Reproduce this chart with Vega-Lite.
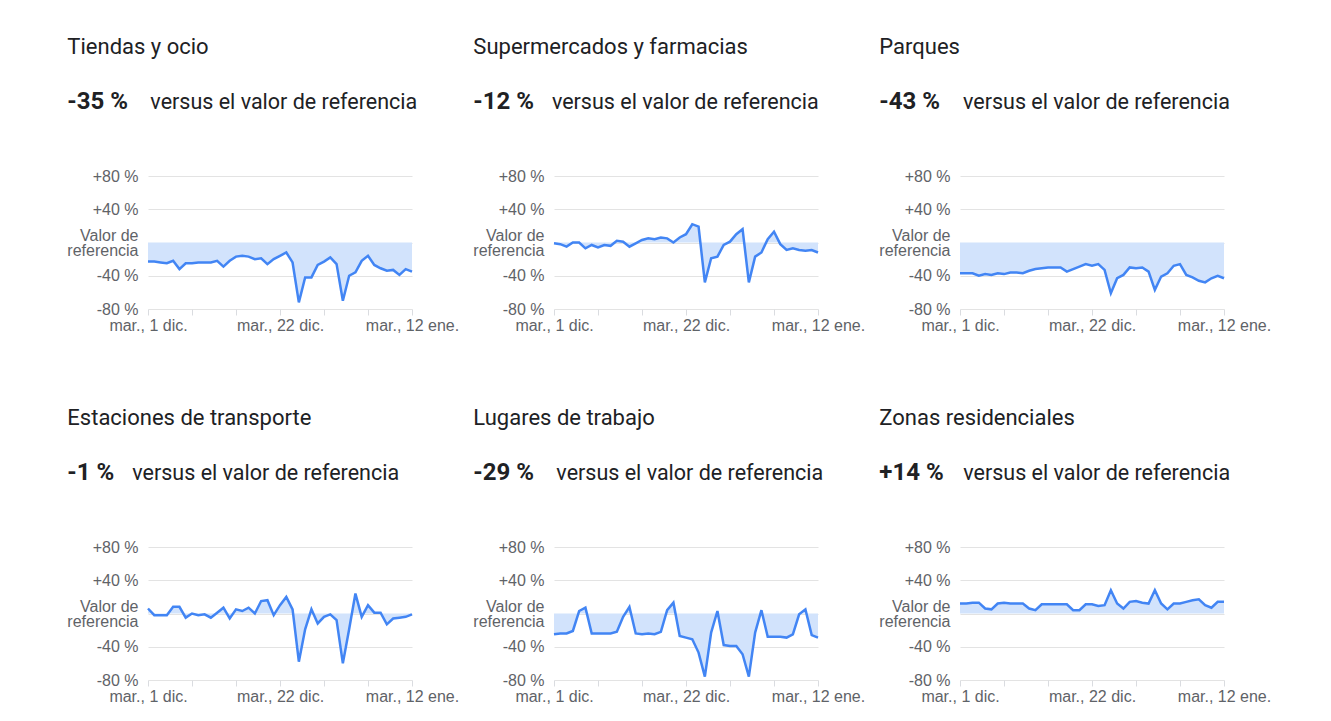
{
  "$schema": "https://vega.github.io/schema/vega-lite/v6.json",
  "background": "white",
  "padding": {"left": 66, "top": 35, "right": 5, "bottom": 5},
  "config": {"view": {"stroke": null}},
  "datasets": {
    "tiendas": [
      {"fecha":"2020-12-01","valor":-23},{"fecha":"2020-12-02","valor":-23},{"fecha":"2020-12-03","valor":-24},{"fecha":"2020-12-04","valor":-25},{"fecha":"2020-12-05","valor":-22},{"fecha":"2020-12-06","valor":-32},{"fecha":"2020-12-07","valor":-25},{"fecha":"2020-12-08","valor":-25},{"fecha":"2020-12-09","valor":-24},{"fecha":"2020-12-10","valor":-24},{"fecha":"2020-12-11","valor":-24},{"fecha":"2020-12-12","valor":-22},{"fecha":"2020-12-13","valor":-29},{"fecha":"2020-12-14","valor":-22},{"fecha":"2020-12-15","valor":-17},{"fecha":"2020-12-16","valor":-16},{"fecha":"2020-12-17","valor":-17},{"fecha":"2020-12-18","valor":-20},{"fecha":"2020-12-19","valor":-19},{"fecha":"2020-12-20","valor":-26},{"fecha":"2020-12-21","valor":-20},{"fecha":"2020-12-22","valor":-16},{"fecha":"2020-12-23","valor":-12},{"fecha":"2020-12-24","valor":-24},{"fecha":"2020-12-25","valor":-72},{"fecha":"2020-12-26","valor":-42},{"fecha":"2020-12-27","valor":-42},{"fecha":"2020-12-28","valor":-27},{"fecha":"2020-12-29","valor":-23},{"fecha":"2020-12-30","valor":-18},{"fecha":"2020-12-31","valor":-26},{"fecha":"2021-01-01","valor":-70},{"fecha":"2021-01-02","valor":-40},{"fecha":"2021-01-03","valor":-36},{"fecha":"2021-01-04","valor":-22},{"fecha":"2021-01-05","valor":-16},{"fecha":"2021-01-06","valor":-27},{"fecha":"2021-01-07","valor":-31},{"fecha":"2021-01-08","valor":-34},{"fecha":"2021-01-09","valor":-33},{"fecha":"2021-01-10","valor":-39},{"fecha":"2021-01-11","valor":-32},{"fecha":"2021-01-12","valor":-35}
    ],
    "supermercados": [
      {"fecha":"2020-12-01","valor":-1},{"fecha":"2020-12-02","valor":-2},{"fecha":"2020-12-03","valor":-5},{"fecha":"2020-12-04","valor":0},{"fecha":"2020-12-05","valor":0},{"fecha":"2020-12-06","valor":-7},{"fecha":"2020-12-07","valor":-3},{"fecha":"2020-12-08","valor":-6},{"fecha":"2020-12-09","valor":-3},{"fecha":"2020-12-10","valor":-4},{"fecha":"2020-12-11","valor":2},{"fecha":"2020-12-12","valor":1},{"fecha":"2020-12-13","valor":-5},{"fecha":"2020-12-14","valor":-1},{"fecha":"2020-12-15","valor":3},{"fecha":"2020-12-16","valor":5},{"fecha":"2020-12-17","valor":4},{"fecha":"2020-12-18","valor":6},{"fecha":"2020-12-19","valor":5},{"fecha":"2020-12-20","valor":0},{"fecha":"2020-12-21","valor":6},{"fecha":"2020-12-22","valor":10},{"fecha":"2020-12-23","valor":22},{"fecha":"2020-12-24","valor":19},{"fecha":"2020-12-25","valor":-48},{"fecha":"2020-12-26","valor":-19},{"fecha":"2020-12-27","valor":-17},{"fecha":"2020-12-28","valor":-3},{"fecha":"2020-12-29","valor":1},{"fecha":"2020-12-30","valor":10},{"fecha":"2020-12-31","valor":16},{"fecha":"2021-01-01","valor":-48},{"fecha":"2021-01-02","valor":-17},{"fecha":"2021-01-03","valor":-12},{"fecha":"2021-01-04","valor":4},{"fecha":"2021-01-05","valor":13},{"fecha":"2021-01-06","valor":-2},{"fecha":"2021-01-07","valor":-9},{"fecha":"2021-01-08","valor":-7},{"fecha":"2021-01-09","valor":-9},{"fecha":"2021-01-10","valor":-10},{"fecha":"2021-01-11","valor":-9},{"fecha":"2021-01-12","valor":-12}
    ],
    "parques": [
      {"fecha":"2020-12-01","valor":-37},{"fecha":"2020-12-02","valor":-37},{"fecha":"2020-12-03","valor":-37},{"fecha":"2020-12-04","valor":-40},{"fecha":"2020-12-05","valor":-38},{"fecha":"2020-12-06","valor":-39},{"fecha":"2020-12-07","valor":-37},{"fecha":"2020-12-08","valor":-38},{"fecha":"2020-12-09","valor":-36},{"fecha":"2020-12-10","valor":-36},{"fecha":"2020-12-11","valor":-37},{"fecha":"2020-12-12","valor":-34},{"fecha":"2020-12-13","valor":-32},{"fecha":"2020-12-14","valor":-31},{"fecha":"2020-12-15","valor":-30},{"fecha":"2020-12-16","valor":-30},{"fecha":"2020-12-17","valor":-30},{"fecha":"2020-12-18","valor":-35},{"fecha":"2020-12-19","valor":-32},{"fecha":"2020-12-20","valor":-29},{"fecha":"2020-12-21","valor":-26},{"fecha":"2020-12-22","valor":-28},{"fecha":"2020-12-23","valor":-26},{"fecha":"2020-12-24","valor":-33},{"fecha":"2020-12-25","valor":-61},{"fecha":"2020-12-26","valor":-43},{"fecha":"2020-12-27","valor":-39},{"fecha":"2020-12-28","valor":-30},{"fecha":"2020-12-29","valor":-31},{"fecha":"2020-12-30","valor":-30},{"fecha":"2020-12-31","valor":-35},{"fecha":"2021-01-01","valor":-57},{"fecha":"2021-01-02","valor":-41},{"fecha":"2021-01-03","valor":-37},{"fecha":"2021-01-04","valor":-28},{"fecha":"2021-01-05","valor":-26},{"fecha":"2021-01-06","valor":-39},{"fecha":"2021-01-07","valor":-42},{"fecha":"2021-01-08","valor":-46},{"fecha":"2021-01-09","valor":-48},{"fecha":"2021-01-10","valor":-43},{"fecha":"2021-01-11","valor":-40},{"fecha":"2021-01-12","valor":-43}
    ],
    "transporte": [
      {"fecha":"2020-12-01","valor":6},{"fecha":"2020-12-02","valor":-2},{"fecha":"2020-12-03","valor":-2},{"fecha":"2020-12-04","valor":-2},{"fecha":"2020-12-05","valor":8},{"fecha":"2020-12-06","valor":8},{"fecha":"2020-12-07","valor":-5},{"fecha":"2020-12-08","valor":0},{"fecha":"2020-12-09","valor":-2},{"fecha":"2020-12-10","valor":-1},{"fecha":"2020-12-11","valor":-5},{"fecha":"2020-12-12","valor":1},{"fecha":"2020-12-13","valor":7},{"fecha":"2020-12-14","valor":-6},{"fecha":"2020-12-15","valor":5},{"fecha":"2020-12-16","valor":3},{"fecha":"2020-12-17","valor":7},{"fecha":"2020-12-18","valor":0},{"fecha":"2020-12-19","valor":15},{"fecha":"2020-12-20","valor":16},{"fecha":"2020-12-21","valor":-2},{"fecha":"2020-12-22","valor":10},{"fecha":"2020-12-23","valor":20},{"fecha":"2020-12-24","valor":5},{"fecha":"2020-12-25","valor":-58},{"fecha":"2020-12-26","valor":-19},{"fecha":"2020-12-27","valor":5},{"fecha":"2020-12-28","valor":-12},{"fecha":"2020-12-29","valor":-4},{"fecha":"2020-12-30","valor":-1},{"fecha":"2020-12-31","valor":-8},{"fecha":"2021-01-01","valor":-60},{"fecha":"2021-01-02","valor":-19},{"fecha":"2021-01-03","valor":24},{"fecha":"2021-01-04","valor":-4},{"fecha":"2021-01-05","valor":10},{"fecha":"2021-01-06","valor":1},{"fecha":"2021-01-07","valor":1},{"fecha":"2021-01-08","valor":-13},{"fecha":"2021-01-09","valor":-6},{"fecha":"2021-01-10","valor":-5},{"fecha":"2021-01-11","valor":-4},{"fecha":"2021-01-12","valor":-1}
    ],
    "trabajo": [
      {"fecha":"2020-12-01","valor":-25},{"fecha":"2020-12-02","valor":-24},{"fecha":"2020-12-03","valor":-24},{"fecha":"2020-12-04","valor":-21},{"fecha":"2020-12-05","valor":3},{"fecha":"2020-12-06","valor":7},{"fecha":"2020-12-07","valor":-24},{"fecha":"2020-12-08","valor":-24},{"fecha":"2020-12-09","valor":-24},{"fecha":"2020-12-10","valor":-24},{"fecha":"2020-12-11","valor":-22},{"fecha":"2020-12-12","valor":-4},{"fecha":"2020-12-13","valor":8},{"fecha":"2020-12-14","valor":-24},{"fecha":"2020-12-15","valor":-25},{"fecha":"2020-12-16","valor":-24},{"fecha":"2020-12-17","valor":-25},{"fecha":"2020-12-18","valor":-22},{"fecha":"2020-12-19","valor":4},{"fecha":"2020-12-20","valor":13},{"fecha":"2020-12-21","valor":-27},{"fecha":"2020-12-22","valor":-29},{"fecha":"2020-12-23","valor":-31},{"fecha":"2020-12-24","valor":-47},{"fecha":"2020-12-25","valor":-76},{"fecha":"2020-12-26","valor":-23},{"fecha":"2020-12-27","valor":3},{"fecha":"2020-12-28","valor":-38},{"fecha":"2020-12-29","valor":-39},{"fecha":"2020-12-30","valor":-39},{"fecha":"2020-12-31","valor":-49},{"fecha":"2021-01-01","valor":-76},{"fecha":"2021-01-02","valor":-23},{"fecha":"2021-01-03","valor":4},{"fecha":"2021-01-04","valor":-28},{"fecha":"2021-01-05","valor":-28},{"fecha":"2021-01-06","valor":-28},{"fecha":"2021-01-07","valor":-29},{"fecha":"2021-01-08","valor":-25},{"fecha":"2021-01-09","valor":-1},{"fecha":"2021-01-10","valor":5},{"fecha":"2021-01-11","valor":-26},{"fecha":"2021-01-12","valor":-29}
    ],
    "residencial": [
      {"fecha":"2020-12-01","valor":12},{"fecha":"2020-12-02","valor":12},{"fecha":"2020-12-03","valor":13},{"fecha":"2020-12-04","valor":13},{"fecha":"2020-12-05","valor":6},{"fecha":"2020-12-06","valor":5},{"fecha":"2020-12-07","valor":12},{"fecha":"2020-12-08","valor":13},{"fecha":"2020-12-09","valor":12},{"fecha":"2020-12-10","valor":12},{"fecha":"2020-12-11","valor":12},{"fecha":"2020-12-12","valor":6},{"fecha":"2020-12-13","valor":4},{"fecha":"2020-12-14","valor":11},{"fecha":"2020-12-15","valor":11},{"fecha":"2020-12-16","valor":11},{"fecha":"2020-12-17","valor":11},{"fecha":"2020-12-18","valor":11},{"fecha":"2020-12-19","valor":4},{"fecha":"2020-12-20","valor":4},{"fecha":"2020-12-21","valor":11},{"fecha":"2020-12-22","valor":11},{"fecha":"2020-12-23","valor":9},{"fecha":"2020-12-24","valor":10},{"fecha":"2020-12-25","valor":28},{"fecha":"2020-12-26","valor":12},{"fecha":"2020-12-27","valor":6},{"fecha":"2020-12-28","valor":14},{"fecha":"2020-12-29","valor":15},{"fecha":"2020-12-30","valor":13},{"fecha":"2020-12-31","valor":12},{"fecha":"2021-01-01","valor":28},{"fecha":"2021-01-02","valor":12},{"fecha":"2021-01-03","valor":5},{"fecha":"2021-01-04","valor":12},{"fecha":"2021-01-05","valor":12},{"fecha":"2021-01-06","valor":14},{"fecha":"2021-01-07","valor":16},{"fecha":"2021-01-08","valor":17},{"fecha":"2021-01-09","valor":10},{"fecha":"2021-01-10","valor":7},{"fecha":"2021-01-11","valor":14},{"fecha":"2021-01-12","valor":14}
    ]
  },
  "columns": 3,
  "spacing": {"row": 238, "column": 142},
  "bounds": "flush",
  "concat": [
    {
      "width": 264, "height": 133,
      "data": {"values": [{"titulo": "Tiendas y ocio", "cifra": "-35 %", "texto": "versus el valor de referencia"}]},
      "layer": [
        {"data": {"name": "tiendas"}, "mark": {"type": "area", "color": "#d2e3fc", "opacity": 1},
         "encoding": {
           "x": {"field": "fecha", "type": "temporal", "scale": {"type": "utc", "domain": [{"year":2020,"month":12,"date":1,"utc":true},{"year":2021,"month":1,"date":12,"utc":true}]},
                 "axis": {"values": [{"year":2020,"month":12,"date":1,"utc":true},{"year":2020,"month":12,"date":8,"utc":true},{"year":2020,"month":12,"date":15,"utc":true},{"year":2020,"month":12,"date":22,"utc":true},{"year":2020,"month":12,"date":29,"utc":true},{"year":2021,"month":1,"date":5,"utc":true},{"year":2021,"month":1,"date":12,"utc":true}], "tickCount": 10,
                          "labelExpr": "utcdate(datum.value) == 1 ? 'mar., 1 dic.' : utcdate(datum.value) == 22 ? 'mar., 22 dic.' : utcdate(datum.value) == 12 ? 'mar., 12 ene.' : ''",
                          "title": null, "grid": false, "domain": false, "ticks": true, "tickSize": 6, "tickColor": "#dadce0", "labelFont": "Liberation Sans", "labelFontSize": 16, "labelColor": "#5f6368", "labelPadding": 2, "labelOverlap": false, "labelFlush": false}},
           "y": {"field": "valor", "type": "quantitative", "scale": {"domain": [-80, 80], "nice": false},
                 "axis": {"values": [-80, -40, 0, 40, 80], "tickCount": 5, "labelExpr": "datum.value == 0 ? ['Valor de', 'referencia'] : (datum.value > 0 ? '+' : '') + datum.value + ' %'",
                          "title": null, "domain": false, "ticks": false, "grid": true, "gridColor": "#e3e3e3", "labelFont": "Liberation Sans", "labelFontSize": 16, "labelColor": "#5f6368", "labelPadding": 10, "labelLineHeight": 15, "labelOverlap": false,
                          "labelOffset": {"condition": {"test": "datum.value == 0", "value": -7}, "value": 0}}},
           "y2": {"datum": 0}}},
        {"data": {"name": "tiendas"}, "mark": {"type": "line", "color": "#4285f4", "strokeWidth": 2.5},
         "encoding": {
           "x": {"field": "fecha", "type": "temporal", "scale": {"type": "utc", "domain": [{"year":2020,"month":12,"date":1,"utc":true},{"year":2021,"month":1,"date":12,"utc":true}]}},
           "y": {"field": "valor", "type": "quantitative", "scale": {"domain": [-80, 80], "nice": false}}}},
        {"mark": {"type": "text", "align": "left", "baseline": "alphabetic", "font": "Roboto", "fontSize": 22, "color": "#202124"},
         "encoding": {
           "x": {"datum": {"year":2020,"month":11,"date":18,"hours":4,"utc":true}, "type": "temporal", "scale": {"type": "utc", "domain": [{"year":2020,"month":12,"date":1,"utc":true},{"year":2021,"month":1,"date":12,"utc":true}]}},
           "y": {"datum": 226.8, "type": "quantitative", "scale": {"domain": [-80, 80], "nice": false}},
           "text": {"field": "titulo"}}},
        {"mark": {"type": "text", "align": "left", "baseline": "alphabetic", "font": "Roboto", "fontSize": 24, "fontWeight": "bold", "color": "#202124"},
         "encoding": {
           "x": {"datum": {"year":2020,"month":11,"date":18,"hours":4,"utc":true}, "type": "temporal", "scale": {"type": "utc", "domain": [{"year":2020,"month":12,"date":1,"utc":true},{"year":2021,"month":1,"date":12,"utc":true}]}},
           "y": {"datum": 160.6, "type": "quantitative", "scale": {"domain": [-80, 80], "nice": false}},
           "text": {"field": "cifra"}}},
        {"mark": {"type": "text", "align": "left", "baseline": "alphabetic", "font": "Roboto", "fontSize": 21.5, "color": "#202124"},
         "encoding": {
           "x": {"datum": {"year":2020,"month":12,"date":1,"hours":9,"utc":true}, "type": "temporal", "scale": {"type": "utc", "domain": [{"year":2020,"month":12,"date":1,"utc":true},{"year":2021,"month":1,"date":12,"utc":true}]}},
           "y": {"datum": 160.6, "type": "quantitative", "scale": {"domain": [-80, 80], "nice": false}},
           "text": {"field": "texto"}}}
      ]
    },
    {
      "width": 264, "height": 133,
      "data": {"values": [{"titulo": "Supermercados y farmacias", "cifra": "-12 %", "texto": "versus el valor de referencia"}]},
      "layer": [
        {"data": {"name": "supermercados"}, "mark": {"type": "area", "color": "#d2e3fc", "opacity": 1},
         "encoding": {
           "x": {"field": "fecha", "type": "temporal", "scale": {"type": "utc", "domain": [{"year":2020,"month":12,"date":1,"utc":true},{"year":2021,"month":1,"date":12,"utc":true}]},
                 "axis": {"values": [{"year":2020,"month":12,"date":1,"utc":true},{"year":2020,"month":12,"date":8,"utc":true},{"year":2020,"month":12,"date":15,"utc":true},{"year":2020,"month":12,"date":22,"utc":true},{"year":2020,"month":12,"date":29,"utc":true},{"year":2021,"month":1,"date":5,"utc":true},{"year":2021,"month":1,"date":12,"utc":true}], "tickCount": 10,
                          "labelExpr": "utcdate(datum.value) == 1 ? 'mar., 1 dic.' : utcdate(datum.value) == 22 ? 'mar., 22 dic.' : utcdate(datum.value) == 12 ? 'mar., 12 ene.' : ''",
                          "title": null, "grid": false, "domain": false, "ticks": true, "tickSize": 6, "tickColor": "#dadce0", "labelFont": "Liberation Sans", "labelFontSize": 16, "labelColor": "#5f6368", "labelPadding": 2, "labelOverlap": false, "labelFlush": false}},
           "y": {"field": "valor", "type": "quantitative", "scale": {"domain": [-80, 80], "nice": false},
                 "axis": {"values": [-80, -40, 0, 40, 80], "tickCount": 5, "labelExpr": "datum.value == 0 ? ['Valor de', 'referencia'] : (datum.value > 0 ? '+' : '') + datum.value + ' %'",
                          "title": null, "domain": false, "ticks": false, "grid": true, "gridColor": "#e3e3e3", "labelFont": "Liberation Sans", "labelFontSize": 16, "labelColor": "#5f6368", "labelPadding": 10, "labelLineHeight": 15, "labelOverlap": false,
                          "labelOffset": {"condition": {"test": "datum.value == 0", "value": -7}, "value": 0}}},
           "y2": {"datum": 0}}},
        {"data": {"name": "supermercados"}, "mark": {"type": "line", "color": "#4285f4", "strokeWidth": 2.5},
         "encoding": {
           "x": {"field": "fecha", "type": "temporal", "scale": {"type": "utc", "domain": [{"year":2020,"month":12,"date":1,"utc":true},{"year":2021,"month":1,"date":12,"utc":true}]}},
           "y": {"field": "valor", "type": "quantitative", "scale": {"domain": [-80, 80], "nice": false}}}},
        {"mark": {"type": "text", "align": "left", "baseline": "alphabetic", "font": "Roboto", "fontSize": 22, "color": "#202124"},
         "encoding": {
           "x": {"datum": {"year":2020,"month":11,"date":18,"hours":4,"utc":true}, "type": "temporal", "scale": {"type": "utc", "domain": [{"year":2020,"month":12,"date":1,"utc":true},{"year":2021,"month":1,"date":12,"utc":true}]}},
           "y": {"datum": 226.8, "type": "quantitative", "scale": {"domain": [-80, 80], "nice": false}},
           "text": {"field": "titulo"}}},
        {"mark": {"type": "text", "align": "left", "baseline": "alphabetic", "font": "Roboto", "fontSize": 24, "fontWeight": "bold", "color": "#202124"},
         "encoding": {
           "x": {"datum": {"year":2020,"month":11,"date":18,"hours":4,"utc":true}, "type": "temporal", "scale": {"type": "utc", "domain": [{"year":2020,"month":12,"date":1,"utc":true},{"year":2021,"month":1,"date":12,"utc":true}]}},
           "y": {"datum": 160.6, "type": "quantitative", "scale": {"domain": [-80, 80], "nice": false}},
           "text": {"field": "cifra"}}},
        {"mark": {"type": "text", "align": "left", "baseline": "alphabetic", "font": "Roboto", "fontSize": 21.5, "color": "#202124"},
         "encoding": {
           "x": {"datum": {"year":2020,"month":11,"date":30,"hours":16,"utc":true}, "type": "temporal", "scale": {"type": "utc", "domain": [{"year":2020,"month":12,"date":1,"utc":true},{"year":2021,"month":1,"date":12,"utc":true}]}},
           "y": {"datum": 160.6, "type": "quantitative", "scale": {"domain": [-80, 80], "nice": false}},
           "text": {"field": "texto"}}}
      ]
    },
    {
      "width": 264, "height": 133,
      "data": {"values": [{"titulo": "Parques", "cifra": "-43 %", "texto": "versus el valor de referencia"}]},
      "layer": [
        {"data": {"name": "parques"}, "mark": {"type": "area", "color": "#d2e3fc", "opacity": 1},
         "encoding": {
           "x": {"field": "fecha", "type": "temporal", "scale": {"type": "utc", "domain": [{"year":2020,"month":12,"date":1,"utc":true},{"year":2021,"month":1,"date":12,"utc":true}]},
                 "axis": {"values": [{"year":2020,"month":12,"date":1,"utc":true},{"year":2020,"month":12,"date":8,"utc":true},{"year":2020,"month":12,"date":15,"utc":true},{"year":2020,"month":12,"date":22,"utc":true},{"year":2020,"month":12,"date":29,"utc":true},{"year":2021,"month":1,"date":5,"utc":true},{"year":2021,"month":1,"date":12,"utc":true}], "tickCount": 10,
                          "labelExpr": "utcdate(datum.value) == 1 ? 'mar., 1 dic.' : utcdate(datum.value) == 22 ? 'mar., 22 dic.' : utcdate(datum.value) == 12 ? 'mar., 12 ene.' : ''",
                          "title": null, "grid": false, "domain": false, "ticks": true, "tickSize": 6, "tickColor": "#dadce0", "labelFont": "Liberation Sans", "labelFontSize": 16, "labelColor": "#5f6368", "labelPadding": 2, "labelOverlap": false, "labelFlush": false}},
           "y": {"field": "valor", "type": "quantitative", "scale": {"domain": [-80, 80], "nice": false},
                 "axis": {"values": [-80, -40, 0, 40, 80], "tickCount": 5, "labelExpr": "datum.value == 0 ? ['Valor de', 'referencia'] : (datum.value > 0 ? '+' : '') + datum.value + ' %'",
                          "title": null, "domain": false, "ticks": false, "grid": true, "gridColor": "#e3e3e3", "labelFont": "Liberation Sans", "labelFontSize": 16, "labelColor": "#5f6368", "labelPadding": 10, "labelLineHeight": 15, "labelOverlap": false,
                          "labelOffset": {"condition": {"test": "datum.value == 0", "value": -7}, "value": 0}}},
           "y2": {"datum": 0}}},
        {"data": {"name": "parques"}, "mark": {"type": "line", "color": "#4285f4", "strokeWidth": 2.5},
         "encoding": {
           "x": {"field": "fecha", "type": "temporal", "scale": {"type": "utc", "domain": [{"year":2020,"month":12,"date":1,"utc":true},{"year":2021,"month":1,"date":12,"utc":true}]}},
           "y": {"field": "valor", "type": "quantitative", "scale": {"domain": [-80, 80], "nice": false}}}},
        {"mark": {"type": "text", "align": "left", "baseline": "alphabetic", "font": "Roboto", "fontSize": 22, "color": "#202124"},
         "encoding": {
           "x": {"datum": {"year":2020,"month":11,"date":18,"hours":4,"utc":true}, "type": "temporal", "scale": {"type": "utc", "domain": [{"year":2020,"month":12,"date":1,"utc":true},{"year":2021,"month":1,"date":12,"utc":true}]}},
           "y": {"datum": 226.8, "type": "quantitative", "scale": {"domain": [-80, 80], "nice": false}},
           "text": {"field": "titulo"}}},
        {"mark": {"type": "text", "align": "left", "baseline": "alphabetic", "font": "Roboto", "fontSize": 24, "fontWeight": "bold", "color": "#202124"},
         "encoding": {
           "x": {"datum": {"year":2020,"month":11,"date":18,"hours":4,"utc":true}, "type": "temporal", "scale": {"type": "utc", "domain": [{"year":2020,"month":12,"date":1,"utc":true},{"year":2021,"month":1,"date":12,"utc":true}]}},
           "y": {"datum": 160.6, "type": "quantitative", "scale": {"domain": [-80, 80], "nice": false}},
           "text": {"field": "cifra"}}},
        {"mark": {"type": "text", "align": "left", "baseline": "alphabetic", "font": "Roboto", "fontSize": 21.5, "color": "#202124"},
         "encoding": {
           "x": {"datum": {"year":2020,"month":12,"date":1,"hours":11,"minutes":30,"utc":true}, "type": "temporal", "scale": {"type": "utc", "domain": [{"year":2020,"month":12,"date":1,"utc":true},{"year":2021,"month":1,"date":12,"utc":true}]}},
           "y": {"datum": 160.6, "type": "quantitative", "scale": {"domain": [-80, 80], "nice": false}},
           "text": {"field": "texto"}}}
      ]
    },
    {
      "width": 264, "height": 133,
      "data": {"values": [{"titulo": "Estaciones de transporte", "cifra": "-1 %", "texto": "versus el valor de referencia"}]},
      "layer": [
        {"data": {"name": "transporte"}, "mark": {"type": "area", "color": "#d2e3fc", "opacity": 1},
         "encoding": {
           "x": {"field": "fecha", "type": "temporal", "scale": {"type": "utc", "domain": [{"year":2020,"month":12,"date":1,"utc":true},{"year":2021,"month":1,"date":12,"utc":true}]},
                 "axis": {"values": [{"year":2020,"month":12,"date":1,"utc":true},{"year":2020,"month":12,"date":8,"utc":true},{"year":2020,"month":12,"date":15,"utc":true},{"year":2020,"month":12,"date":22,"utc":true},{"year":2020,"month":12,"date":29,"utc":true},{"year":2021,"month":1,"date":5,"utc":true},{"year":2021,"month":1,"date":12,"utc":true}], "tickCount": 10,
                          "labelExpr": "utcdate(datum.value) == 1 ? 'mar., 1 dic.' : utcdate(datum.value) == 22 ? 'mar., 22 dic.' : utcdate(datum.value) == 12 ? 'mar., 12 ene.' : ''",
                          "title": null, "grid": false, "domain": false, "ticks": true, "tickSize": 6, "tickColor": "#dadce0", "labelFont": "Liberation Sans", "labelFontSize": 16, "labelColor": "#5f6368", "labelPadding": 2, "labelOverlap": false, "labelFlush": false}},
           "y": {"field": "valor", "type": "quantitative", "scale": {"domain": [-80, 80], "nice": false},
                 "axis": {"values": [-80, -40, 0, 40, 80], "tickCount": 5, "labelExpr": "datum.value == 0 ? ['Valor de', 'referencia'] : (datum.value > 0 ? '+' : '') + datum.value + ' %'",
                          "title": null, "domain": false, "ticks": false, "grid": true, "gridColor": "#e3e3e3", "labelFont": "Liberation Sans", "labelFontSize": 16, "labelColor": "#5f6368", "labelPadding": 10, "labelLineHeight": 15, "labelOverlap": false,
                          "labelOffset": {"condition": {"test": "datum.value == 0", "value": -7}, "value": 0}}},
           "y2": {"datum": 0}}},
        {"data": {"name": "transporte"}, "mark": {"type": "line", "color": "#4285f4", "strokeWidth": 2.5},
         "encoding": {
           "x": {"field": "fecha", "type": "temporal", "scale": {"type": "utc", "domain": [{"year":2020,"month":12,"date":1,"utc":true},{"year":2021,"month":1,"date":12,"utc":true}]}},
           "y": {"field": "valor", "type": "quantitative", "scale": {"domain": [-80, 80], "nice": false}}}},
        {"mark": {"type": "text", "align": "left", "baseline": "alphabetic", "font": "Roboto", "fontSize": 22, "color": "#202124"},
         "encoding": {
           "x": {"datum": {"year":2020,"month":11,"date":18,"hours":4,"utc":true}, "type": "temporal", "scale": {"type": "utc", "domain": [{"year":2020,"month":12,"date":1,"utc":true},{"year":2021,"month":1,"date":12,"utc":true}]}},
           "y": {"datum": 226.8, "type": "quantitative", "scale": {"domain": [-80, 80], "nice": false}},
           "text": {"field": "titulo"}}},
        {"mark": {"type": "text", "align": "left", "baseline": "alphabetic", "font": "Roboto", "fontSize": 24, "fontWeight": "bold", "color": "#202124"},
         "encoding": {
           "x": {"datum": {"year":2020,"month":11,"date":18,"hours":4,"utc":true}, "type": "temporal", "scale": {"type": "utc", "domain": [{"year":2020,"month":12,"date":1,"utc":true},{"year":2021,"month":1,"date":12,"utc":true}]}},
           "y": {"datum": 160.6, "type": "quantitative", "scale": {"domain": [-80, 80], "nice": false}},
           "text": {"field": "cifra"}}},
        {"mark": {"type": "text", "align": "left", "baseline": "alphabetic", "font": "Roboto", "fontSize": 21.5, "color": "#202124"},
         "encoding": {
           "x": {"datum": {"year":2020,"month":11,"date":28,"hours":12,"utc":true}, "type": "temporal", "scale": {"type": "utc", "domain": [{"year":2020,"month":12,"date":1,"utc":true},{"year":2021,"month":1,"date":12,"utc":true}]}},
           "y": {"datum": 160.6, "type": "quantitative", "scale": {"domain": [-80, 80], "nice": false}},
           "text": {"field": "texto"}}}
      ]
    },
    {
      "width": 264, "height": 133,
      "data": {"values": [{"titulo": "Lugares de trabajo", "cifra": "-29 %", "texto": "versus el valor de referencia"}]},
      "layer": [
        {"data": {"name": "trabajo"}, "mark": {"type": "area", "color": "#d2e3fc", "opacity": 1},
         "encoding": {
           "x": {"field": "fecha", "type": "temporal", "scale": {"type": "utc", "domain": [{"year":2020,"month":12,"date":1,"utc":true},{"year":2021,"month":1,"date":12,"utc":true}]},
                 "axis": {"values": [{"year":2020,"month":12,"date":1,"utc":true},{"year":2020,"month":12,"date":8,"utc":true},{"year":2020,"month":12,"date":15,"utc":true},{"year":2020,"month":12,"date":22,"utc":true},{"year":2020,"month":12,"date":29,"utc":true},{"year":2021,"month":1,"date":5,"utc":true},{"year":2021,"month":1,"date":12,"utc":true}], "tickCount": 10,
                          "labelExpr": "utcdate(datum.value) == 1 ? 'mar., 1 dic.' : utcdate(datum.value) == 22 ? 'mar., 22 dic.' : utcdate(datum.value) == 12 ? 'mar., 12 ene.' : ''",
                          "title": null, "grid": false, "domain": false, "ticks": true, "tickSize": 6, "tickColor": "#dadce0", "labelFont": "Liberation Sans", "labelFontSize": 16, "labelColor": "#5f6368", "labelPadding": 2, "labelOverlap": false, "labelFlush": false}},
           "y": {"field": "valor", "type": "quantitative", "scale": {"domain": [-80, 80], "nice": false},
                 "axis": {"values": [-80, -40, 0, 40, 80], "tickCount": 5, "labelExpr": "datum.value == 0 ? ['Valor de', 'referencia'] : (datum.value > 0 ? '+' : '') + datum.value + ' %'",
                          "title": null, "domain": false, "ticks": false, "grid": true, "gridColor": "#e3e3e3", "labelFont": "Liberation Sans", "labelFontSize": 16, "labelColor": "#5f6368", "labelPadding": 10, "labelLineHeight": 15, "labelOverlap": false,
                          "labelOffset": {"condition": {"test": "datum.value == 0", "value": -7}, "value": 0}}},
           "y2": {"datum": 0}}},
        {"data": {"name": "trabajo"}, "mark": {"type": "line", "color": "#4285f4", "strokeWidth": 2.5},
         "encoding": {
           "x": {"field": "fecha", "type": "temporal", "scale": {"type": "utc", "domain": [{"year":2020,"month":12,"date":1,"utc":true},{"year":2021,"month":1,"date":12,"utc":true}]}},
           "y": {"field": "valor", "type": "quantitative", "scale": {"domain": [-80, 80], "nice": false}}}},
        {"mark": {"type": "text", "align": "left", "baseline": "alphabetic", "font": "Roboto", "fontSize": 22, "color": "#202124"},
         "encoding": {
           "x": {"datum": {"year":2020,"month":11,"date":18,"hours":4,"utc":true}, "type": "temporal", "scale": {"type": "utc", "domain": [{"year":2020,"month":12,"date":1,"utc":true},{"year":2021,"month":1,"date":12,"utc":true}]}},
           "y": {"datum": 226.8, "type": "quantitative", "scale": {"domain": [-80, 80], "nice": false}},
           "text": {"field": "titulo"}}},
        {"mark": {"type": "text", "align": "left", "baseline": "alphabetic", "font": "Roboto", "fontSize": 24, "fontWeight": "bold", "color": "#202124"},
         "encoding": {
           "x": {"datum": {"year":2020,"month":11,"date":18,"hours":4,"utc":true}, "type": "temporal", "scale": {"type": "utc", "domain": [{"year":2020,"month":12,"date":1,"utc":true},{"year":2021,"month":1,"date":12,"utc":true}]}},
           "y": {"datum": 160.6, "type": "quantitative", "scale": {"domain": [-80, 80], "nice": false}},
           "text": {"field": "cifra"}}},
        {"mark": {"type": "text", "align": "left", "baseline": "alphabetic", "font": "Roboto", "fontSize": 21.5, "color": "#202124"},
         "encoding": {
           "x": {"datum": {"year":2020,"month":12,"date":1,"hours":9,"utc":true}, "type": "temporal", "scale": {"type": "utc", "domain": [{"year":2020,"month":12,"date":1,"utc":true},{"year":2021,"month":1,"date":12,"utc":true}]}},
           "y": {"datum": 160.6, "type": "quantitative", "scale": {"domain": [-80, 80], "nice": false}},
           "text": {"field": "texto"}}}
      ]
    },
    {
      "width": 264, "height": 133,
      "data": {"values": [{"titulo": "Zonas residenciales", "cifra": "+14 %", "texto": "versus el valor de referencia"}]},
      "layer": [
        {"data": {"name": "residencial"}, "mark": {"type": "area", "color": "#d2e3fc", "opacity": 1},
         "encoding": {
           "x": {"field": "fecha", "type": "temporal", "scale": {"type": "utc", "domain": [{"year":2020,"month":12,"date":1,"utc":true},{"year":2021,"month":1,"date":12,"utc":true}]},
                 "axis": {"values": [{"year":2020,"month":12,"date":1,"utc":true},{"year":2020,"month":12,"date":8,"utc":true},{"year":2020,"month":12,"date":15,"utc":true},{"year":2020,"month":12,"date":22,"utc":true},{"year":2020,"month":12,"date":29,"utc":true},{"year":2021,"month":1,"date":5,"utc":true},{"year":2021,"month":1,"date":12,"utc":true}], "tickCount": 10,
                          "labelExpr": "utcdate(datum.value) == 1 ? 'mar., 1 dic.' : utcdate(datum.value) == 22 ? 'mar., 22 dic.' : utcdate(datum.value) == 12 ? 'mar., 12 ene.' : ''",
                          "title": null, "grid": false, "domain": false, "ticks": true, "tickSize": 6, "tickColor": "#dadce0", "labelFont": "Liberation Sans", "labelFontSize": 16, "labelColor": "#5f6368", "labelPadding": 2, "labelOverlap": false, "labelFlush": false}},
           "y": {"field": "valor", "type": "quantitative", "scale": {"domain": [-80, 80], "nice": false},
                 "axis": {"values": [-80, -40, 0, 40, 80], "tickCount": 5, "labelExpr": "datum.value == 0 ? ['Valor de', 'referencia'] : (datum.value > 0 ? '+' : '') + datum.value + ' %'",
                          "title": null, "domain": false, "ticks": false, "grid": true, "gridColor": "#e3e3e3", "labelFont": "Liberation Sans", "labelFontSize": 16, "labelColor": "#5f6368", "labelPadding": 10, "labelLineHeight": 15, "labelOverlap": false,
                          "labelOffset": {"condition": {"test": "datum.value == 0", "value": -7}, "value": 0}}},
           "y2": {"datum": 0}}},
        {"data": {"name": "residencial"}, "mark": {"type": "line", "color": "#4285f4", "strokeWidth": 2.5},
         "encoding": {
           "x": {"field": "fecha", "type": "temporal", "scale": {"type": "utc", "domain": [{"year":2020,"month":12,"date":1,"utc":true},{"year":2021,"month":1,"date":12,"utc":true}]}},
           "y": {"field": "valor", "type": "quantitative", "scale": {"domain": [-80, 80], "nice": false}}}},
        {"mark": {"type": "text", "align": "left", "baseline": "alphabetic", "font": "Roboto", "fontSize": 22, "color": "#202124"},
         "encoding": {
           "x": {"datum": {"year":2020,"month":11,"date":18,"hours":4,"utc":true}, "type": "temporal", "scale": {"type": "utc", "domain": [{"year":2020,"month":12,"date":1,"utc":true},{"year":2021,"month":1,"date":12,"utc":true}]}},
           "y": {"datum": 226.8, "type": "quantitative", "scale": {"domain": [-80, 80], "nice": false}},
           "text": {"field": "titulo"}}},
        {"mark": {"type": "text", "align": "left", "baseline": "alphabetic", "font": "Roboto", "fontSize": 24, "fontWeight": "bold", "color": "#202124"},
         "encoding": {
           "x": {"datum": {"year":2020,"month":11,"date":18,"hours":4,"utc":true}, "type": "temporal", "scale": {"type": "utc", "domain": [{"year":2020,"month":12,"date":1,"utc":true},{"year":2021,"month":1,"date":12,"utc":true}]}},
           "y": {"datum": 160.6, "type": "quantitative", "scale": {"domain": [-80, 80], "nice": false}},
           "text": {"field": "cifra"}}},
        {"mark": {"type": "text", "align": "left", "baseline": "alphabetic", "font": "Roboto", "fontSize": 21.5, "color": "#202124"},
         "encoding": {
           "x": {"datum": {"year":2020,"month":12,"date":1,"hours":12,"minutes":30,"utc":true}, "type": "temporal", "scale": {"type": "utc", "domain": [{"year":2020,"month":12,"date":1,"utc":true},{"year":2021,"month":1,"date":12,"utc":true}]}},
           "y": {"datum": 160.6, "type": "quantitative", "scale": {"domain": [-80, 80], "nice": false}},
           "text": {"field": "texto"}}}
      ]
    }
  ]
}
